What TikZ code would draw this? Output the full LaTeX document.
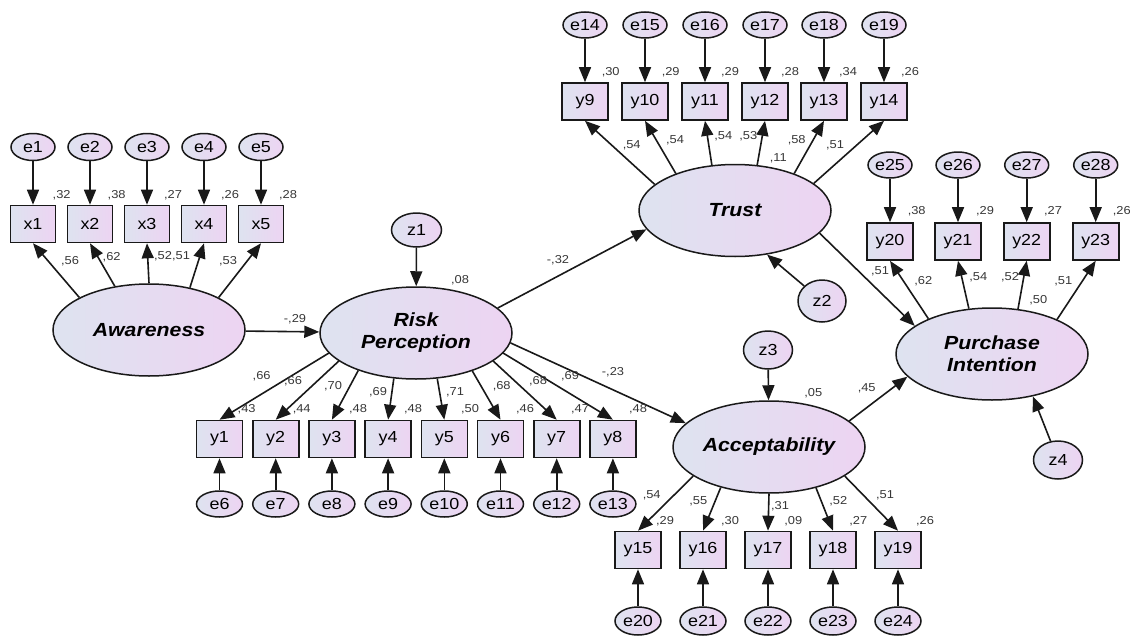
\documentclass[tikz,border=0pt]{standalone}
\usepackage{fontspec}
\setmainfont{Liberation Sans}[FakeStretch=1.12]
\usetikzlibrary{shapes.geometric,arrows.meta}
\definecolor{cA}{RGB}{222,227,240}
\definecolor{cB}{RGB}{237,212,242}
\definecolor{numc}{RGB}{55,55,55}
\tikzset{
  lat/.style={ellipse, draw=black!90, line width=1.5pt, left color=cA, right color=cB,
    inner sep=0pt, minimum width=192pt, minimum height=92pt, align=center,
    font=\fontsize{19}{22}\selectfont\bfseries\itshape},
  err/.style={ellipse, draw=black!90, line width=1.5pt, left color=cA, right color=cB,
    inner sep=0pt, minimum width=45pt, minimum height=27pt, font=\fontsize{16}{18}\selectfont},
  dstb/.style={err, minimum width=49pt, minimum height=38pt},
  obs/.style={rectangle, draw=black!90, line width=1.6pt, left color=cA, right color=cB,
    inner sep=0pt, minimum width=46pt, minimum height=37pt, font=\fontsize{16}{18}\selectfont},
  arr/.style={-{Triangle[length=15pt,width=12pt]}, line width=1.6pt, black!90},
  lbl/.style={font=\fontsize{11.5}{13}\selectfont, text=numc, inner sep=0pt},
}
\begin{document}
\begin{tikzpicture}[x=1pt,y=-1pt]
\useasboundingbox (0,0) rectangle (1130,637);

% latent variables
\node[lat] (aw)  at (149,330)   {Awareness};
\node[lat] (rp)  at (416,333)   {Risk\\Perception};
\node[lat] (tr)  at (735,210.5) {Trust};
\node[lat] (acc) at (769,447)   {Acceptability};
\node[lat] (pi)  at (992,354)   {Purchase\\Intention};

% disturbances
\node[dstb, minimum width=50pt, minimum height=34pt] (z1) at (416.5,230) {z1};
\node[dstb, minimum width=48pt, minimum height=42pt] (z2) at (822,301) {z2};
\node[dstb] (z3) at (768,350) {z3};
\node[dstb] (z4) at (1058,460) {z4};
\draw[arr] (z1) -- (rp);
\draw[arr] (z2) -- (tr.306);
\draw[arr] (z3) -- (acc);
\draw[arr] (z4) -- (pi.314);

% Awareness indicators
\foreach \i/\xx in {1/33,2/90,3/147,4/204,5/261} {
  \node[err, minimum width=44pt] (e\i) at (\xx,147) {e\i};
  \node[obs, minimum width=45pt] (x\i) at (\xx,224) {x\i};
  \draw[arr] (e\i) -- (x\i);
}
\foreach \i/\a in {1/155,2/128,3/90,4/46,5/25}
  \draw[arr] (aw.\a) -- (x\i.south);

% Risk Perception indicators
\foreach \i/\xx [evaluate=\i as \k using int(\i+5)] in
   {1/219.5,2/275.7,3/331.9,4/388.1,5/444.3,6/500.5,7/556.7,8/612.9} {
  \node[obs] (y\i) at (\xx,439) {y\i};
  \node[err, minimum width=46pt, minimum height=26pt] (e\k) at (\xx,504) {e\k};
  \draw[arr] (e\k) -- (y\i);
}
\foreach \i/\a in {1/193,2/200,3/213,4/244,5/295,6/326,7/340,8/347}
  \draw[arr] (rp.\a) -- (y\i.north);

% Trust indicators
\foreach \i/\xx [evaluate=\i as \k using int(\i+5)] in
   {9/585,10/645,11/705,12/765,13/824,14/884} {
  \node[obs] (y\i) at (\xx,101.5) {y\i};
  \node[err, minimum width=44pt, minimum height=26pt] (e\k) at (\xx,25) {e\k};
  \draw[arr] (e\k) -- (y\i);
}
\foreach \i/\a in {9/162,10/148,11/117,12/64,13/32,14/19}
  \draw[arr] (tr.\a) -- (y\i.south);

% Acceptability indicators
\foreach \i/\xx [evaluate=\i as \k using int(\i+5)] in
   {15/638,16/703,17/768,18/833,19/898} {
  \node[obs] (y\i) at (\xx,550) {y\i};
  \node[err, minimum width=46pt, minimum height=28pt] (e\k) at (\xx,621) {e\k};
  \draw[arr] (e\k) -- (y\i);
}
\foreach \i/\a in {15/201,16/220,17/270,18/319,19/339}
  \draw[arr] (acc.\a) -- (y\i.north);

% Purchase Intention indicators
\foreach \i/\xx [evaluate=\i as \k using int(\i+5)] in
   {20/890,21/958,22/1026.7,23/1095.7} {
  \node[obs] (y\i) at (\xx,241.5) {y\i};
  \node[err, minimum width=44pt, minimum height=26pt] (e\k) at (\xx,165) {e\k};
  \draw[arr] (e\k) -- (y\i);
}
\foreach \i/\a in {20/151,21/117,22/60,23/28}
  \draw[arr] (pi.\a) -- (y\i.south);

% structural paths
\draw[arr] (aw) -- (rp);
\draw[arr] (rp.17) -- (tr.192);
\draw[arr] (rp.354) -- (acc.164);
\draw[arr] (tr.345) -- (pi.160);
\draw[arr] (acc.18) -- (pi.195);

% ---- labels ----
% Awareness
\node[lbl] at (61.7,195) {,32};
\node[lbl] at (116.7,195) {,38};
\node[lbl] at (173,195) {,27};
\node[lbl] at (230,195) {,26};
\node[lbl] at (288,195) {,28};
\node[lbl] at (70,261.7) {,56};
\node[lbl] at (111.7,257) {,62};
\node[lbl] at (163,256.7) {,52};
\node[lbl] at (181,256.7) {,51};
\node[lbl] at (228,261.7) {,53};
\node[lbl] at (295,319) {-,29};
% Risk Perception
\node[lbl] at (460,280) {,08};
\node[lbl] at (558,260) {-,32};
\node[lbl] at (261.7,376.7) {,66};
\node[lbl] at (293,381.7) {,66};
\node[lbl] at (333,386.7) {,70};
\node[lbl] at (378,392.7) {,69};
\node[lbl] at (455,392.7) {,71};
\node[lbl] at (501.7,386.7) {,68};
\node[lbl] at (538,381.7) {,68};
\node[lbl] at (570,376.7) {,69};
\node[lbl] at (613,372.7) {-,23};
\node[lbl] at (246.7,409.3) {,43};
\node[lbl] at (301.7,409.3) {,44};
\node[lbl] at (358,409.3) {,48};
\node[lbl] at (413,409.3) {,48};
\node[lbl] at (470,409.3) {,50};
\node[lbl] at (525,409.3) {,46};
\node[lbl] at (580,409.3) {,47};
\node[lbl] at (638,409.3) {,48};
% Trust
\node[lbl] at (610.7,72.7) {,30};
\node[lbl] at (670.7,72.7) {,29};
\node[lbl] at (730,72.7) {,29};
\node[lbl] at (790,72.7) {,28};
\node[lbl] at (848,72.7) {,34};
\node[lbl] at (910,72.7) {,26};
\node[lbl] at (631.7,145) {,54};
\node[lbl] at (675,140) {,54};
\node[lbl] at (723.3,136.7) {,54};
\node[lbl] at (748.3,136.7) {,53};
\node[lbl] at (778.3,158.3) {,11};
\node[lbl] at (796.7,140) {,58};
\node[lbl] at (835,145) {,51};
% Purchase Intention
\node[lbl] at (916.7,211.7) {,38};
\node[lbl] at (985,211.7) {,29};
\node[lbl] at (1053,211.7) {,27};
\node[lbl] at (1121.7,211.7) {,26};
\node[lbl] at (880,271.7) {,51};
\node[lbl] at (923.3,281.7) {,62};
\node[lbl] at (978.3,277.3) {,54};
\node[lbl] at (1010,277.3) {,52};
\node[lbl] at (1038.3,300) {,50};
\node[lbl] at (1063.3,281.7) {,51};
% Acceptability
\node[lbl] at (813.3,393.3) {,05};
\node[lbl] at (866.7,388.3) {,45};
\node[lbl] at (651.7,495) {,54};
\node[lbl] at (698.3,501.7) {,55};
\node[lbl] at (780,506.7) {,31};
\node[lbl] at (838.3,501.7) {,52};
\node[lbl] at (885,495) {,51};
\node[lbl] at (665,521.7) {,29};
\node[lbl] at (730,521.7) {,30};
\node[lbl] at (793.3,521.7) {,09};
\node[lbl] at (858.3,521.7) {,27};
\node[lbl] at (925,521.7) {,26};
\end{tikzpicture}
\end{document}
